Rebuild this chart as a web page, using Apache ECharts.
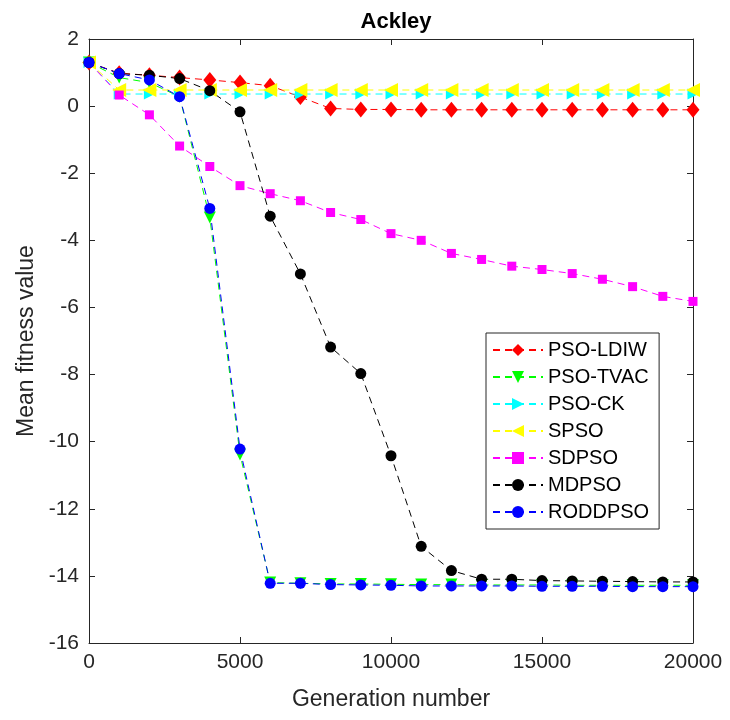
<!DOCTYPE html>
<html>
<head>
<meta charset="utf-8">
<script src="https://cdn.jsdelivr.net/npm/echarts@6/dist/echarts.min.js"></script>
<style>
  html, body { margin: 0; padding: 0; background: #fff; }
  #chart { width: 730px; height: 720px; }
</style>
</head>
<body>
<div id="chart"></div>
<script>
// Generation numbers sampled every 1000 iterations
const generations = [0, 1000, 2000, 3000, 4000, 5000, 6000, 7000, 8000, 9000, 10000,
  11000, 12000, 13000, 14000, 15000, 16000, 17000, 18000, 19000, 20000];

// Mean fitness (log scale values) per algorithm
const psoLDIW = [1.3, 0.98, 0.92, 0.85, 0.78, 0.7, 0.61, 0.27, -0.07, -0.1, -0.1,
  -0.11, -0.11, -0.11, -0.11, -0.11, -0.11, -0.11, -0.11, -0.11, -0.11];
const psoTVAC = [1.3, 0.85, 0.7, 0.28, -3.32, -10.38, -14.2, -14.22, -14.24, -14.24, -14.25,
  -14.26, -14.26, -14.27, -14.27, -14.27, -14.28, -14.28, -14.28, -14.28, -14.28];
const psoCK = [1.3, 0.36, 0.36, 0.36, 0.36, 0.36, 0.36, 0.36, 0.36, 0.36, 0.36,
  0.36, 0.36, 0.36, 0.36, 0.36, 0.36, 0.36, 0.36, 0.36, 0.36];
const spso = [1.3, 0.48, 0.48, 0.48, 0.48, 0.48, 0.48, 0.48, 0.48, 0.48, 0.48,
  0.48, 0.48, 0.48, 0.48, 0.48, 0.48, 0.48, 0.48, 0.48, 0.48];
const sdpso = [1.3, 0.33, -0.26, -1.19, -1.8, -2.37, -2.61, -2.82, -3.17, -3.38, -3.8,
  -4.0, -4.39, -4.57, -4.77, -4.87, -4.99, -5.16, -5.38, -5.67, -5.82];
const mdpso = [1.3, 0.97, 0.92, 0.82, 0.46, -0.17, -3.28, -5.0, -7.18, -7.97, -10.42,
  -13.12, -13.84, -14.1, -14.1, -14.14, -14.15, -14.16, -14.17, -14.18, -14.18];
const roddpso = [1.3, 0.97, 0.78, 0.28, -3.05, -10.22, -14.22, -14.22, -14.26, -14.27, -14.28,
  -14.3, -14.3, -14.3, -14.3, -14.31, -14.31, -14.31, -14.32, -14.32, -14.32];

const xTicks = { min: 0, max: 20000, interval: 5000 };
const yTicks = { min: -16, max: 2, interval: 2 };

const axisColor = '#262626';
const fontFamily = 'Liberation Sans, Arial, sans-serif';

const pair = arr => arr.map((v, i) => [generations[i], v]);

function makeSeries(name, data, color, symbol, size) {
  return {
    name: name,
    type: 'line',
    data: pair(data),
    symbol: symbol,
    symbolSize: size,
    showAllSymbol: true,
    lineStyle: { color: color, width: 1, type: [7, 5] },
    itemStyle: { color: color, borderWidth: 0 },
    emphasis: { disabled: true },
    animation: false
  };
}

const triDown = 'path://M0,0L10,0L5,10Z';
const triRight = 'path://M0,0L10,5L0,10Z';
const triLeft = 'path://M10,0L0,5L10,10Z';

const series = [
  makeSeries('PSO-LDIW', psoLDIW, '#ff0000', 'diamond', [13, 16]),
  makeSeries('PSO-TVAC', psoTVAC, '#00ff00', triDown, 12),
  makeSeries('PSO-CK', psoCK, '#00ffff', triRight, 11),
  makeSeries('SPSO', spso, '#ffff00', triLeft, 14),
  makeSeries('SDPSO', sdpso, '#ff00ff', 'rect', 9),
  makeSeries('MDPSO', mdpso, '#000000', 'circle', 11),
  makeSeries('RODDPSO', roddpso, '#0000ff', 'circle', 11)
];

// frame axes (top / right) carry ticks only
function frameTicks() {
  return {
    axisLine: { show: true, onZero: false, lineStyle: { color: axisColor, width: 1 } },
    axisTick: { show: true, inside: true, length: 6, lineStyle: { color: axisColor } },
    axisLabel: { show: false },
    splitLine: { show: false }
  };
}

const chart = echarts.init(document.getElementById('chart'), null, { renderer: 'canvas' });
chart.setOption({
  backgroundColor: '#ffffff',
  animation: false,
  title: {
    text: 'Ackley',
    left: 391,
    top: 6,
    textAlign: 'center',
    textStyle: { fontFamily: fontFamily, fontSize: 22, fontWeight: 'bold', color: '#000' }
  },
  grid: { left: 89, right: 37, top: 39, bottom: 77, containLabel: false },
  legend: {
    orient: 'vertical',
    left: 486,
    top: 333,
    padding: [7, 10, 7, 6],
    itemWidth: 50,
    itemHeight: 15,
    itemGap: 7,
    backgroundColor: '#ffffff',
    borderColor: axisColor,
    borderWidth: 1,
    textStyle: { fontFamily: fontFamily, fontSize: 20, color: '#000' },
    data: series.map(s => s.name)
  },
  xAxis: [Object.assign({
    type: 'value',
    min: xTicks.min, max: xTicks.max, interval: xTicks.interval,
    name: 'Generation number',
    nameLocation: 'middle',
    nameGap: 45,
    nameTextStyle: { fontFamily: fontFamily, fontSize: 23, color: axisColor }
  }, frameTicks(), {
    axisLabel: { fontFamily: fontFamily, fontSize: 21, color: axisColor, margin: 9,
      formatter: v => String(v) }
  }), Object.assign({
    type: 'value', position: 'top',
    min: xTicks.min, max: xTicks.max, interval: xTicks.interval
  }, frameTicks())],
  yAxis: [Object.assign({
    type: 'value',
    min: yTicks.min, max: yTicks.max, interval: yTicks.interval,
    name: 'Mean fitness value',
    nameLocation: 'middle',
    nameGap: 50,
    nameTextStyle: { fontFamily: fontFamily, fontSize: 23, color: axisColor }
  }, frameTicks(), {
    axisLabel: { fontFamily: fontFamily, fontSize: 21, color: axisColor, margin: 10 }
  }), Object.assign({
    type: 'value', position: 'right',
    min: yTicks.min, max: yTicks.max, interval: yTicks.interval
  }, frameTicks())],
  series: series
});
</script>
</body>
</html>
